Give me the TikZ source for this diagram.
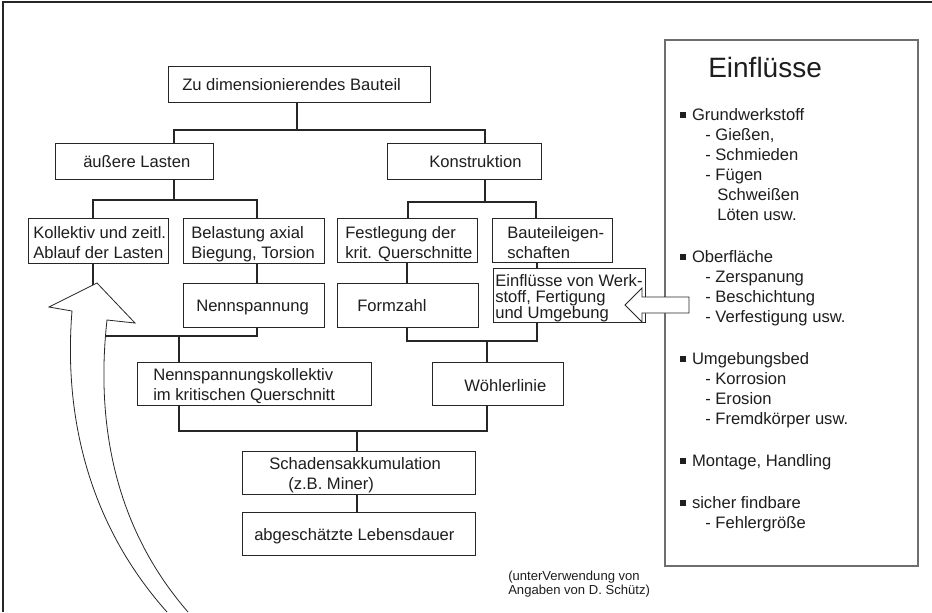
\documentclass[tikz,border=0pt]{standalone}
\usepackage{fontspec}
\setmainfont{Liberation Sans}
\usetikzlibrary{fit}
\definecolor{ink}{HTML}{1E1E1E}
\definecolor{edge}{HTML}{262626}
\definecolor{panelc}{HTML}{6E6E6E}
\newcommand{\sqb}{\rule[1.6pt]{4.2pt}{4.2pt}\hspace{4.6pt}}
\begin{document}
\begin{tikzpicture}[x=0.75pt,y=-0.75pt,
  box/.style={draw=edge, line width=0.75pt, inner sep=0pt},
  conn/.style={draw=edge, line width=1.3pt},
  txt/.style={anchor=base west, inner sep=0pt, font=\fontsize{12.45}{15}\selectfont, text=ink},
  ptxt/.style={anchor=base west, inner sep=0pt, font=\fontsize{12.45}{15}\selectfont, text=ink},
  note/.style={anchor=base west, inner sep=0pt, font=\fontsize{9.8}{11}\selectfont, text=ink},
  hollow/.style={draw=edge, line width=0.6pt, fill=white}]
\useasboundingbox (0,0) rectangle (932,612);
\fill[white] (0,0) rectangle (932,612);
% outer frame (top and left)
\draw[edge, line width=1.1pt] (3,612) -- (3,2) -- (932,2);

% boxes
\node[box, fit={(168,66) (430,102)}] (top) {};
\node[box, fit={(55,143) (213,179)}] (aL) {};
\node[box, fit={(387,143) (541,179)}] (kon) {};
\node[box, fit={(28,218) (168,263)}] (koll) {};
\node[box, fit={(183,218) (324,263)}] (bel) {};
\node[box, fit={(337,218) (477,262)}] (fest) {};
\node[box, fit={(492,218) (612,262)}] (baut) {};
\node[box, fit={(493,268) (645,322)}] (ein) {};
\node[box, fit={(183,283) (324,327)}] (nenn) {};
\node[box, fit={(337,283) (478,327)}] (form) {};
\node[box, fit={(137,362) (371,405)}] (nk) {};
\node[box, fit={(432,362) (563,405)}] (woe) {};
\node[box, fit={(242,451) (475,494)}] (schad) {};
\node[box, fit={(242,512) (475,555)}] (leb) {};

% texts
\node[txt] (ttop) at (182,90) {Zu dimensionierendes Bauteil};
\node[txt] (taL) at (83,167) {äußere Lasten};
\node[txt] (tkon) at (429,167) {Konstruktion};
\node[txt] (tkoll1) at (33,238) {Kollektiv und zeitl.};
\node[txt] (tkoll2) at (33,258) {Ablauf der Lasten};
\node[txt] (tbel1) at (191,238) {Belastung axial};
\node[txt] (tbel2) at (191,258) {Biegung, Torsion};
\node[txt] (tfest1) at (345,238) {Festlegung der};
\node[txt] (tfest2) at (345,258) {krit. Querschnitte};
\node[txt] (tbaut1) at (507,238) {Bauteileigen-};
\node[txt] (tbaut2) at (507,258) {schaften};
\node[txt] (tein1) at (495,286) {Einflüsse von Werk-};
\node[txt] (tein2) at (495,302) {stoff, Fertigung};
\node[txt] (tein3) at (495,318) {und Umgebung};
\node[txt] (tnenn) at (196,311) {Nennspannung};
\node[txt] (tform) at (357,311) {Formzahl};
\node[txt] (tnk1) at (153,380) {Nennspannungskollektiv};
\node[txt] (tnk2) at (153,400) {im kritischen Querschnitt};
\node[txt] (twoe) at (464,391) {Wöhlerlinie};
\node[txt] (tschad1) at (269,469) {Schadensakkumulation};
\node[txt] (tschad2) at (288,489) {(z.B. Miner)};
\node[txt] (tleb) at (254,540) {abgeschätzte Lebensdauer};

% junction coordinates
\coordinate (j1) at (297,130); \coordinate (j1a) at (174,130); \coordinate (j1b) at (485,130);
\coordinate (j2) at (174,200); \coordinate (j2a) at (93,200); \coordinate (j2b) at (257,200);
\coordinate (j3) at (485,202); \coordinate (j3a) at (408,202); \coordinate (j3b) at (536,202);
\coordinate (j4) at (179,336); \coordinate (j4a) at (93,336); \coordinate (j4b) at (257,336);
\coordinate (j5) at (487,341); \coordinate (j5a) at (407,341); \coordinate (j5b) at (537,341);
\coordinate (j6) at (357,431); \coordinate (j6a) at (179,431); \coordinate (j6b) at (487,431);

% connectors
\draw[conn] (top.south -| j1) -- (j1);
\draw[conn] (aL.north -| j1a) -- (j1a) -- (j1b) -- (kon.north -| j1b);
\draw[conn] (aL.south -| j2) -- (j2);
\draw[conn] (koll.north -| j2a) -- (j2a) -- (j2b) -- (bel.north -| j2b);
\draw[conn] (kon.south -| j3) -- (j3);
\draw[conn] (fest.north -| j3a) -- (j3a) -- (j3b) -- (baut.north -| j3b);
\draw[conn] (bel.south -| j4b) -- (nenn.north -| j4b);
\draw[conn] (fest.south -| j5a) -- (form.north -| j5a);
\draw[conn] (baut.south -| j5b) -- (ein.north -| j5b);
\draw[conn] (koll.south -| j4a) -- (j4a) -- (j4b) -- (nenn.south -| j4b);
\draw[conn] (j4) -- (nk.north -| j4);
\draw[conn] (form.south -| j5a) -- (j5a) -- (j5b) -- (ein.south -| j5b);
\draw[conn] (j5) -- (woe.north -| j5);
\draw[conn] (nk.south -| j6a) -- (j6a) -- (j6b) -- (woe.south -| j6b);
\draw[conn] (j6) -- (schad.north -| j6);
\draw[conn] (schad.south -| j6) -- (leb.north -| j6);

% big curved hollow arrow
\fill[white] (167,612) .. controls (85,520) and (64,410) .. (72,311) -- (49,307) -- (97,283) -- (135,323) -- (107,320) .. controls (97,410) and (108,520) .. (188,612) -- cycle;
\draw[edge, line width=0.6pt, line join=miter] (167,612) .. controls (85,520) and (64,410) .. (72,311) -- (49,307) -- (97,283) -- (135,323) -- (107,320) .. controls (97,410) and (108,520) .. (188,612);

% right panel
\node[draw=panelc, line width=0.9pt, inner sep=0pt, fit={(665,40) (918,566)}] (panel) {};
\node[anchor=base west, inner sep=0pt, font=\fontsize{21}{25}\selectfont, text=ink] (ptitle) at (708,77) {Einflüsse};
\node[ptxt] (p1) at (680,120) {\sqb Grundwerkstoff};
\node[ptxt] (p2) at (705,140) {- Gießen,};
\node[ptxt] (p3) at (705,160) {- Schmieden};
\node[ptxt] (p4) at (705,180) {- Fügen};
\node[ptxt] (p5) at (717,200) {Schweißen};
\node[ptxt] (p6) at (717,220) {Löten usw.};
\node[ptxt] (p7) at (680,262) {\sqb Oberfläche};
\node[ptxt] (p8) at (705,282) {- Zerspanung};
\node[ptxt] (p9) at (705,302) {- Beschichtung};
\node[ptxt] (p10) at (705,322) {- Verfestigung usw.};
\node[ptxt] (p11) at (680,364) {\sqb Umgebungsbed};
\node[ptxt] (p12) at (705,384) {- Korrosion};
\node[ptxt] (p13) at (705,404) {- Erosion};
\node[ptxt] (p14) at (705,424) {- Fremdkörper usw.};
\node[ptxt] (p15) at (680,466) {\sqb Montage, Handling};
\node[ptxt] (p16) at (680,508) {\sqb sicher findbare};
\node[ptxt] (p17) at (705,528) {- Fehlergröße};

% hollow arrow into "Einflüsse von Werkstoff"
\draw[hollow, line join=miter] (689,297) -- (642,297) -- (642,288) -- (625,305) -- (642,322) -- (642,313) -- (689,313) -- cycle;

% source note
\node[note] (n1) at (508,580) {(unterVerwendung von};
\node[note] (n2) at (508,594) {Angaben von D. Schütz)};
\end{tikzpicture}
\end{document}
